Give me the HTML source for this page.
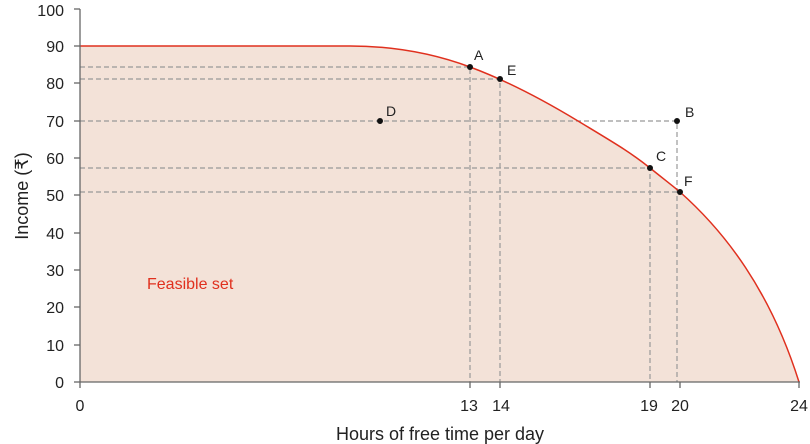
<!DOCTYPE html>
<html><head><meta charset="utf-8"><style>
html,body{margin:0;padding:0;background:#fff}
svg{display:block;font-family:"Liberation Sans",sans-serif}
</style></head><body>
<svg width="810" height="444" viewBox="0 0 810 444">
<path d="M80,46 L350,46 C395,46 435,54 470,67 S540,98 578,121 S630,152 650,168 S668,182 680,192 C725,232 770,290 799,382 L80,382 Z" fill="#f3e2d8"/>
<g stroke="#999" stroke-width="1.2" stroke-dasharray="5,3" fill="none">
<path d="M80,67H470V382"/><path d="M80,79H500V382"/><path d="M80,121H677V382"/><path d="M80,168H650V382"/><path d="M80,192H680"/>
</g>
<path d="M80,46 L350,46 C395,46 435,54 470,67 S540,98 578,121 S630,152 650,168 S668,182 680,192 C725,232 770,290 799,382" fill="none" stroke="#e0301e" stroke-width="1.5"/>
<g stroke="#666" stroke-width="1.3">
<line x1="80" y1="9" x2="80" y2="382"/><line x1="80" y1="382" x2="800" y2="382"/>
<line x1="74" y1="9" x2="80" y2="9"/><line x1="74" y1="46" x2="80" y2="46"/><line x1="74" y1="83" x2="80" y2="83"/><line x1="74" y1="121" x2="80" y2="121"/><line x1="74" y1="158" x2="80" y2="158"/><line x1="74" y1="195" x2="80" y2="195"/><line x1="74" y1="233" x2="80" y2="233"/><line x1="74" y1="270" x2="80" y2="270"/><line x1="74" y1="307" x2="80" y2="307"/><line x1="74" y1="345" x2="80" y2="345"/><line x1="74" y1="382" x2="80" y2="382"/>
<line x1="80" y1="382" x2="80" y2="388"/><line x1="470" y1="382" x2="470" y2="388"/><line x1="500" y1="382" x2="500" y2="388"/><line x1="650" y1="382" x2="650" y2="388"/><line x1="680" y1="382" x2="680" y2="388"/><line x1="799" y1="382" x2="799" y2="388"/>
</g>
<g font-size="16" fill="#222" text-anchor="end">
<text x="64" y="16">100</text><text x="64" y="52">90</text><text x="64" y="89">80</text><text x="64" y="127">70</text><text x="64" y="164">60</text><text x="64" y="201">50</text><text x="64" y="239">40</text><text x="64" y="276">30</text><text x="64" y="313">20</text><text x="64" y="351">10</text><text x="64" y="388">0</text>
</g>
<g font-size="16" fill="#222" text-anchor="middle">
<text x="80" y="411">0</text><text x="469" y="411">13</text><text x="501" y="411">14</text><text x="649" y="411">19</text><text x="680" y="411">20</text><text x="799" y="411">24</text>
<text x="440" y="440" font-size="18">Hours of free time per day</text>
</g>
<text transform="translate(28,196) rotate(-90)" font-size="18" fill="#222" text-anchor="middle">Income (₹)</text>
<text x="147" y="289" font-size="16" fill="#e0301e">Feasible set</text>
<g fill="#111">
<circle cx="470" cy="67" r="3"/><circle cx="500" cy="79" r="3"/><circle cx="677" cy="121" r="3"/><circle cx="650" cy="168" r="3"/><circle cx="680" cy="192" r="3"/><circle cx="380" cy="121" r="3"/>
</g>
<g font-size="14" fill="#222">
<text x="474" y="60">A</text><text x="507" y="75">E</text><text x="685" y="117">B</text><text x="656" y="161">C</text><text x="684" y="186">F</text><text x="386" y="116">D</text>
</g>
</svg>
</body></html>
